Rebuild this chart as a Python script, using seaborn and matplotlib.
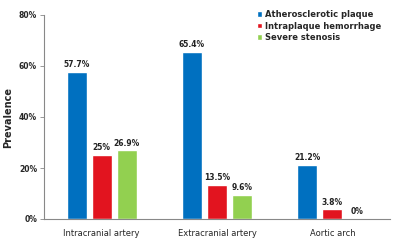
import pandas as pd
import seaborn as sns
import matplotlib.pyplot as plt
from matplotlib.ticker import FuncFormatter

# Data
sites = ["Intracranial artery", "Extracranial artery", "Aortic arch"]
findings = ["Atherosclerotic plaque", "Intraplaque hemorrhage", "Severe stenosis"]
plaque = [57.7, 65.4, 21.2]
hemorrhage = [25.0, 13.5, 3.8]
stenosis = [26.9, 9.6, 0.0]
value_labels = {
    "Atherosclerotic plaque": ["57.7%", "65.4%", "21.2%"],
    "Intraplaque hemorrhage": ["25%", "13.5%", "3.8%"],
    "Severe stenosis": ["26.9%", "9.6%", "0%"],
}
colors = ["#0070C0", "#E2141F", "#92D050"]

df = pd.DataFrame({
    "Site": sites * 3,
    "Finding": [findings[0]] * 3 + [findings[1]] * 3 + [findings[2]] * 3,
    "Prevalence": plaque + hemorrhage + stenosis,
})

sns.set_style("white")
plt.rcParams['font.family'] = ['DejaVu Sans']

fig = plt.figure(figsize=(4, 2.4), dpi=100)
ax = fig.add_axes([0.11, 0.0875, 0.865, 0.85])

sns.barplot(data=df, x="Site", y="Prevalence", hue="Finding", order=sites,
            hue_order=findings, palette=colors, width=0.65, gap=0.2,
            saturation=1, errorbar=None, ax=ax, legend=True)

for container, name in zip(ax.containers, findings):
    ax.bar_label(container, labels=value_labels[name], padding=2,
                 fontsize=5.5, fontweight='bold', color='#222222')

ax.set_xlim(-0.5, 2.5)
ax.set_ylim(0, 80)
ax.set_yticks([0, 20, 40, 60, 80])
ax.yaxis.set_major_formatter(FuncFormatter(lambda v, p: f"{v:.0f}%"))
ax.set_xlabel("")
ax.set_ylabel("Prevalence", fontsize=7, fontweight='bold', labelpad=4)

for side in ["top", "right"]:
    ax.spines[side].set_visible(False)
for side in ["left", "bottom"]:
    ax.spines[side].set_color("#888888")
    ax.spines[side].set_linewidth(0.8)

ax.tick_params(axis='y', which='both', left=True, length=3, width=0.6,
               color='#888888', labelsize=5.5, pad=2)
ax.tick_params(axis='x', bottom=False, labelsize=6, pad=4)
for lbl in ax.get_yticklabels():
    lbl.set_fontweight('bold')

ax.legend(loc='upper left', bbox_to_anchor=(0.635, 0.972), bbox_transform=fig.transFigure,
          frameon=False, handlelength=0.6, handleheight=0.6,
          handletextpad=0.3, labelspacing=0.3, borderaxespad=0,
          prop={'size': 6, 'weight': 'bold'})

fig.savefig("out.png", dpi=100)
